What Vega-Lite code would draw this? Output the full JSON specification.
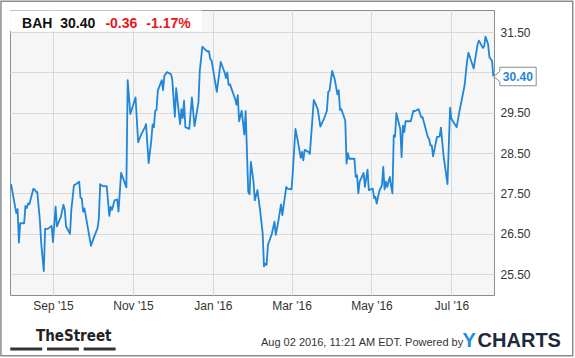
{
  "$schema": "https://vega.github.io/schema/vega-lite/v6.json",
  "width": 484,
  "height": 285,
  "autosize": {"type": "none"},
  "padding": {"left": 10, "top": 10, "right": 81, "bottom": 63},
  "background": "white",
  "config": {
    "font": "Liberation Sans",
    "view": {"fill": "#f6f6f6", "stroke": "#8c8c8c", "strokeWidth": 1}
  },
  "layer": [
    {
      "data": {"values": [
        {"date": "2015-07-31", "price": 27.73},
        {"date": "2015-08-04", "price": 27.01},
        {"date": "2015-08-05", "price": 27.11},
        {"date": "2015-08-06", "price": 26.28},
        {"date": "2015-08-07", "price": 26.76},
        {"date": "2015-08-10", "price": 26.76},
        {"date": "2015-08-11", "price": 27.19},
        {"date": "2015-08-12", "price": 27.14},
        {"date": "2015-08-13", "price": 27.25},
        {"date": "2015-08-14", "price": 27.23},
        {"date": "2015-08-17", "price": 27.61},
        {"date": "2015-08-18", "price": 27.60},
        {"date": "2015-08-19", "price": 27.54},
        {"date": "2015-08-20", "price": 27.54},
        {"date": "2015-08-22", "price": 26.84},
        {"date": "2015-08-23", "price": 26.27},
        {"date": "2015-08-25", "price": 25.57},
        {"date": "2015-08-26", "price": 26.62},
        {"date": "2015-08-28", "price": 26.62},
        {"date": "2015-08-31", "price": 26.69},
        {"date": "2015-09-01", "price": 26.29},
        {"date": "2015-09-03", "price": 27.17},
        {"date": "2015-09-04", "price": 26.68},
        {"date": "2015-09-05", "price": 26.76},
        {"date": "2015-09-07", "price": 26.92},
        {"date": "2015-09-09", "price": 27.22},
        {"date": "2015-09-10", "price": 27.09},
        {"date": "2015-09-11", "price": 26.68},
        {"date": "2015-09-14", "price": 26.50},
        {"date": "2015-09-15", "price": 27.09},
        {"date": "2015-09-17", "price": 27.70},
        {"date": "2015-09-19", "price": 27.74},
        {"date": "2015-09-21", "price": 27.79},
        {"date": "2015-09-22", "price": 27.39},
        {"date": "2015-09-23", "price": 27.38},
        {"date": "2015-09-24", "price": 27.05},
        {"date": "2015-09-25", "price": 27.13},
        {"date": "2015-09-30", "price": 26.20},
        {"date": "2015-10-02", "price": 26.39},
        {"date": "2015-10-05", "price": 26.64},
        {"date": "2015-10-06", "price": 26.88},
        {"date": "2015-10-07", "price": 27.73},
        {"date": "2015-10-09", "price": 27.68},
        {"date": "2015-10-12", "price": 27.68},
        {"date": "2015-10-14", "price": 26.94},
        {"date": "2015-10-15", "price": 27.17},
        {"date": "2015-10-16", "price": 27.09},
        {"date": "2015-10-18", "price": 27.33},
        {"date": "2015-10-20", "price": 27.35},
        {"date": "2015-10-21", "price": 27.05},
        {"date": "2015-10-23", "price": 28.01},
        {"date": "2015-10-25", "price": 27.83},
        {"date": "2015-10-27", "price": 27.65},
        {"date": "2015-10-28", "price": 30.31},
        {"date": "2015-10-30", "price": 29.47},
        {"date": "2015-11-03", "price": 29.88},
        {"date": "2015-11-05", "price": 28.77},
        {"date": "2015-11-07", "price": 28.94},
        {"date": "2015-11-10", "price": 29.13},
        {"date": "2015-11-11", "price": 29.22},
        {"date": "2015-11-13", "price": 28.25},
        {"date": "2015-11-15", "price": 28.81},
        {"date": "2015-11-16", "price": 29.21},
        {"date": "2015-11-17", "price": 29.14},
        {"date": "2015-11-18", "price": 29.55},
        {"date": "2015-11-19", "price": 29.57},
        {"date": "2015-11-20", "price": 30.05},
        {"date": "2015-11-23", "price": 30.31},
        {"date": "2015-11-24", "price": 30.06},
        {"date": "2015-11-25", "price": 30.42},
        {"date": "2015-11-27", "price": 30.51},
        {"date": "2015-11-30", "price": 30.46},
        {"date": "2015-12-01", "price": 30.33},
        {"date": "2015-12-03", "price": 29.40},
        {"date": "2015-12-04", "price": 30.11},
        {"date": "2015-12-06", "price": 29.51},
        {"date": "2015-12-07", "price": 29.22},
        {"date": "2015-12-08", "price": 29.59},
        {"date": "2015-12-09", "price": 29.37},
        {"date": "2015-12-10", "price": 29.80},
        {"date": "2015-12-11", "price": 29.14},
        {"date": "2015-12-13", "price": 29.12},
        {"date": "2015-12-14", "price": 29.10},
        {"date": "2015-12-16", "price": 29.88},
        {"date": "2015-12-18", "price": 29.17},
        {"date": "2015-12-21", "price": 29.76},
        {"date": "2015-12-22", "price": 30.54},
        {"date": "2015-12-24", "price": 31.14},
        {"date": "2015-12-26", "price": 31.07},
        {"date": "2015-12-28", "price": 31.02},
        {"date": "2015-12-29", "price": 31.03},
        {"date": "2015-12-30", "price": 30.83},
        {"date": "2015-12-31", "price": 30.80},
        {"date": "2016-01-04", "price": 30.02},
        {"date": "2016-01-07", "price": 30.76},
        {"date": "2016-01-10", "price": 30.50},
        {"date": "2016-01-11", "price": 30.36},
        {"date": "2016-01-12", "price": 30.50},
        {"date": "2016-01-13", "price": 30.19},
        {"date": "2016-01-14", "price": 30.21},
        {"date": "2016-01-18", "price": 29.84},
        {"date": "2016-01-19", "price": 29.70},
        {"date": "2016-01-20", "price": 29.94},
        {"date": "2016-01-21", "price": 29.29},
        {"date": "2016-01-23", "price": 29.55},
        {"date": "2016-01-25", "price": 28.96},
        {"date": "2016-01-26", "price": 29.54},
        {"date": "2016-01-28", "price": 27.54},
        {"date": "2016-01-29", "price": 27.48},
        {"date": "2016-01-30", "price": 28.28},
        {"date": "2016-02-01", "price": 27.79},
        {"date": "2016-02-02", "price": 27.33},
        {"date": "2016-02-04", "price": 27.58},
        {"date": "2016-02-06", "price": 27.09},
        {"date": "2016-02-08", "price": 26.51},
        {"date": "2016-02-09", "price": 25.69},
        {"date": "2016-02-10", "price": 25.76},
        {"date": "2016-02-11", "price": 25.73},
        {"date": "2016-02-12", "price": 26.22},
        {"date": "2016-02-15", "price": 26.50},
        {"date": "2016-02-17", "price": 26.80},
        {"date": "2016-02-18", "price": 26.47},
        {"date": "2016-02-20", "price": 26.82},
        {"date": "2016-02-22", "price": 27.23},
        {"date": "2016-02-23", "price": 26.96},
        {"date": "2016-02-26", "price": 27.66},
        {"date": "2016-02-27", "price": 27.62},
        {"date": "2016-03-01", "price": 27.60},
        {"date": "2016-03-02", "price": 28.03},
        {"date": "2016-03-04", "price": 29.10},
        {"date": "2016-03-06", "price": 28.77},
        {"date": "2016-03-08", "price": 28.38},
        {"date": "2016-03-09", "price": 28.53},
        {"date": "2016-03-10", "price": 28.32},
        {"date": "2016-03-11", "price": 28.58},
        {"date": "2016-03-14", "price": 28.53},
        {"date": "2016-03-15", "price": 28.48},
        {"date": "2016-03-18", "price": 29.82},
        {"date": "2016-03-21", "price": 29.59},
        {"date": "2016-03-23", "price": 29.16},
        {"date": "2016-03-26", "price": 29.37},
        {"date": "2016-03-28", "price": 29.55},
        {"date": "2016-03-29", "price": 30.02},
        {"date": "2016-03-30", "price": 30.05},
        {"date": "2016-04-01", "price": 30.54},
        {"date": "2016-04-03", "price": 30.33},
        {"date": "2016-04-05", "price": 29.96},
        {"date": "2016-04-06", "price": 30.06},
        {"date": "2016-04-07", "price": 29.57},
        {"date": "2016-04-08", "price": 29.59},
        {"date": "2016-04-11", "price": 29.31},
        {"date": "2016-04-12", "price": 28.24},
        {"date": "2016-04-13", "price": 28.50},
        {"date": "2016-04-14", "price": 28.36},
        {"date": "2016-04-18", "price": 28.36},
        {"date": "2016-04-19", "price": 27.91},
        {"date": "2016-04-20", "price": 27.95},
        {"date": "2016-04-21", "price": 27.50},
        {"date": "2016-04-22", "price": 27.79},
        {"date": "2016-04-25", "price": 28.01},
        {"date": "2016-04-26", "price": 27.66},
        {"date": "2016-04-28", "price": 28.09},
        {"date": "2016-04-29", "price": 27.58},
        {"date": "2016-05-02", "price": 27.62},
        {"date": "2016-05-03", "price": 27.38},
        {"date": "2016-05-04", "price": 27.42},
        {"date": "2016-05-05", "price": 27.25},
        {"date": "2016-05-07", "price": 27.56},
        {"date": "2016-05-09", "price": 27.70},
        {"date": "2016-05-10", "price": 28.16},
        {"date": "2016-05-11", "price": 27.60},
        {"date": "2016-05-12", "price": 27.79},
        {"date": "2016-05-13", "price": 27.66},
        {"date": "2016-05-14", "price": 27.79},
        {"date": "2016-05-15", "price": 27.91},
        {"date": "2016-05-16", "price": 27.68},
        {"date": "2016-05-17", "price": 27.50},
        {"date": "2016-05-18", "price": 28.94},
        {"date": "2016-05-19", "price": 28.91},
        {"date": "2016-05-20", "price": 29.49},
        {"date": "2016-05-23", "price": 29.10},
        {"date": "2016-05-24", "price": 28.40},
        {"date": "2016-05-25", "price": 29.18},
        {"date": "2016-05-26", "price": 29.02},
        {"date": "2016-05-27", "price": 29.29},
        {"date": "2016-05-31", "price": 29.29},
        {"date": "2016-06-02", "price": 29.55},
        {"date": "2016-06-03", "price": 29.54},
        {"date": "2016-06-06", "price": 29.59},
        {"date": "2016-06-08", "price": 29.39},
        {"date": "2016-06-09", "price": 29.39},
        {"date": "2016-06-13", "price": 28.90},
        {"date": "2016-06-14", "price": 28.85},
        {"date": "2016-06-15", "price": 28.69},
        {"date": "2016-06-16", "price": 28.69},
        {"date": "2016-06-17", "price": 28.42},
        {"date": "2016-06-20", "price": 28.90},
        {"date": "2016-06-22", "price": 28.91},
        {"date": "2016-06-23", "price": 29.13},
        {"date": "2016-06-25", "price": 28.44},
        {"date": "2016-06-28", "price": 27.73},
        {"date": "2016-06-30", "price": 29.63},
        {"date": "2016-07-01", "price": 29.35},
        {"date": "2016-07-05", "price": 29.14},
        {"date": "2016-07-07", "price": 29.51},
        {"date": "2016-07-11", "price": 30.17},
        {"date": "2016-07-13", "price": 30.79},
        {"date": "2016-07-14", "price": 30.99},
        {"date": "2016-07-17", "price": 30.70},
        {"date": "2016-07-18", "price": 30.60},
        {"date": "2016-07-21", "price": 31.20},
        {"date": "2016-07-22", "price": 31.29},
        {"date": "2016-07-25", "price": 31.11},
        {"date": "2016-07-26", "price": 31.15},
        {"date": "2016-07-27", "price": 31.39},
        {"date": "2016-07-29", "price": 31.20},
        {"date": "2016-07-30", "price": 30.88},
        {"date": "2016-08-01", "price": 30.79},
        {"date": "2016-08-02", "price": 30.40}
      ]},
      "mark": {"type": "line", "color": "#1f86d9", "strokeWidth": 1.8, "strokeJoin": "round"},
      "encoding": {
        "x": {
          "field": "date", "type": "temporal",
          "scale": {"type": "utc", "nice": false, "domain": [
            {"year": 2015, "month": 7, "date": 30, "hours": 5, "utc": true},
            {"year": 2016, "month": 8, "date": 2, "hours": 12, "utc": true}
          ]},
          "axis": {
            "title": null, "orient": "bottom",
            "values": [
              {"year": 2015, "month": 9, "date": 1, "utc": true},
              {"year": 2015, "month": 11, "date": 1, "utc": true},
              {"year": 2016, "month": 1, "date": 1, "utc": true},
              {"year": 2016, "month": 3, "date": 1, "utc": true},
              {"year": 2016, "month": 5, "date": 1, "utc": true},
              {"year": 2016, "month": 7, "date": 1, "utc": true}
            ],
            "format": "%b '%y",
            "domain": false, "ticks": false,
            "labelPadding": 5, "labelFontSize": 12, "labelColor": "#333333",
            "labelFont": "Liberation Sans",
            "grid": true, "gridColor": "#d9d9d9", "gridWidth": 1
          }
        },
        "y": {
          "field": "price", "type": "quantitative",
          "scale": {"domain": [24.98, 32.05], "nice": false, "zero": false},
          "axis": {
            "title": null, "orient": "right",
            "values": [25.5, 26.5, 27.5, 28.5, 29.5, 30.5, 31.5],
            "format": ".2f",
            "labelExpr": "datum.value == 30.5 ? '' : datum.label",
            "domain": false, "ticks": false,
            "labelPadding": 6, "labelFontSize": 12, "labelColor": "#333333",
            "labelFont": "Liberation Sans",
            "grid": true, "gridColor": "#d9d9d9", "gridWidth": 1
          }
        }
      }
    },
    {
      "data": {"values": [{}]},
      "mark": {"type": "rect", "fill": "white", "stroke": null},
      "encoding": {
        "x": {"datum": {"year": 2015, "month": 7, "date": 30, "hours": 6, "utc": true}, "type": "temporal"},
        "x2": {"datum": {"year": 2015, "month": 12, "date": 23, "hours": 15, "utc": true}},
        "y": {"datum": 31.52, "type": "quantitative"},
        "y2": {"datum": 32.04}
      }
    },
    {
      "data": {"values": [{}]},
      "mark": {"type": "text", "text": "BAH", "font": "Liberation Sans", "fontWeight": "bold", "fontSize": 14, "fill": "#111111", "align": "left", "baseline": "middle"},
      "encoding": {
        "x": {"datum": {"year": 2015, "month": 8, "date": 8, "hours": 10, "utc": true}, "type": "temporal"},
        "y": {"datum": 31.70, "type": "quantitative"}
      }
    },
    {
      "data": {"values": [{}]},
      "mark": {"type": "text", "text": "30.40", "font": "Liberation Sans", "fontWeight": "bold", "fontSize": 14, "fill": "#111111", "align": "left", "baseline": "middle"},
      "encoding": {
        "x": {"datum": {"year": 2015, "month": 9, "date": 6, "hours": 12, "utc": true}, "type": "temporal"},
        "y": {"datum": 31.70, "type": "quantitative"}
      }
    },
    {
      "data": {"values": [{}]},
      "mark": {"type": "text", "text": "-0.36", "font": "Liberation Sans", "fontWeight": "bold", "fontSize": 14, "fill": "#e3191b", "align": "left", "baseline": "middle"},
      "encoding": {
        "x": {"datum": {"year": 2015, "month": 10, "date": 11, "hours": 0, "utc": true}, "type": "temporal"},
        "y": {"datum": 31.70, "type": "quantitative"}
      }
    },
    {
      "data": {"values": [{}]},
      "mark": {"type": "text", "text": "-1.17%", "font": "Liberation Sans", "fontWeight": "bold", "fontSize": 14, "fill": "#e3191b", "align": "left", "baseline": "middle"},
      "encoding": {
        "x": {"datum": {"year": 2015, "month": 11, "date": 11, "hours": 6, "utc": true}, "type": "temporal"},
        "y": {"datum": 31.70, "type": "quantitative"}
      }
    },
    {
      "data": {"values": [{}]},
      "mark": {"type": "point", "filled": true, "fill": "white", "stroke": "#8c8c8c", "strokeWidth": 1, "opacity": 1, "size": 1764,
        "shape": "M0,0 L0.29,-0.24 L0.29,-0.44 L2.02,-0.44 L2.02,0.44 L0.29,0.44 L0.29,0.24 Z"},
      "encoding": {
        "x": {"datum": {"year": 2016, "month": 8, "date": 2, "hours": 8, "utc": true}, "type": "temporal"},
        "y": {"datum": 30.40, "type": "quantitative"}
      }
    },
    {
      "data": {"values": [{}]},
      "mark": {"type": "text", "text": "30.40", "font": "Liberation Sans", "fontWeight": "bold", "fontSize": 12, "fill": "#1f86d9", "align": "left", "baseline": "middle", "dx": 9},
      "encoding": {
        "x": {"datum": {"year": 2016, "month": 8, "date": 2, "hours": 8, "utc": true}, "type": "temporal"},
        "y": {"datum": 30.40, "type": "quantitative"}
      }
    },
    {
      "data": {"values": [{}]},
      "mark": {"type": "text", "text": "TheStreet", "font": "Liberation Sans Narrow, DejaVu Sans Condensed", "fontWeight": "bold", "fontSize": 15, "fill": "#222222", "align": "left", "baseline": "middle"},
      "encoding": {
        "x": {"datum": {"year": 2015, "month": 8, "date": 19, "utc": true}, "type": "temporal"},
        "y": {"datum": 23.96, "type": "quantitative"}
      }
    },
    {
      "data": {"values": [{}]},
      "mark": {"type": "rule", "stroke": "#333333", "strokeWidth": 3},
      "encoding": {
        "x": {"datum": {"year": 2015, "month": 7, "date": 30, "hours": 10, "utc": true}, "type": "temporal"},
        "x2": {"datum": {"year": 2015, "month": 8, "date": 23, "hours": 19, "utc": true}},
        "y": {"datum": 23.64, "type": "quantitative"}
      }
    },
    {
      "data": {"values": [{}]},
      "mark": {"type": "rule", "stroke": "#333333", "strokeWidth": 3},
      "encoding": {
        "x": {"datum": {"year": 2015, "month": 8, "date": 27, "hours": 10, "utc": true}, "type": "temporal"},
        "x2": {"datum": {"year": 2015, "month": 9, "date": 20, "hours": 19, "utc": true}},
        "y": {"datum": 23.64, "type": "quantitative"}
      }
    },
    {
      "data": {"values": [{}]},
      "mark": {"type": "rule", "stroke": "#333333", "strokeWidth": 3},
      "encoding": {
        "x": {"datum": {"year": 2015, "month": 9, "date": 24, "hours": 10, "utc": true}, "type": "temporal"},
        "x2": {"datum": {"year": 2015, "month": 10, "date": 18, "hours": 19, "utc": true}},
        "y": {"datum": 23.64, "type": "quantitative"}
      }
    },
    {
      "data": {"values": [{}]},
      "mark": {"type": "text", "text": "Aug 02 2016, 11:21 AM EDT.  Powered by", "font": "Liberation Sans", "fontSize": 11, "fill": "#333333", "align": "left", "baseline": "middle"},
      "encoding": {
        "x": {"datum": {"year": 2016, "month": 2, "date": 6, "hours": 17, "utc": true}, "type": "temporal"},
        "y": {"datum": 23.79, "type": "quantitative"}
      }
    },
    {
      "data": {"values": [{}]},
      "mark": {"type": "text", "text": "Y", "font": "Liberation Sans", "fontWeight": "bold", "fontSize": 20, "fill": "#1d8ce0", "align": "left", "baseline": "middle"},
      "encoding": {
        "x": {"datum": {"year": 2016, "month": 7, "date": 9, "hours": 12, "utc": true}, "type": "temporal"},
        "y": {"datum": 23.83, "type": "quantitative"}
      }
    },
    {
      "data": {"values": [{}]},
      "mark": {"type": "text", "text": "CHARTS", "font": "Liberation Sans", "fontWeight": "bold", "fontSize": 20, "fill": "#1c2a39", "align": "left", "baseline": "middle"},
      "encoding": {
        "x": {"datum": {"year": 2016, "month": 7, "date": 21, "utc": true}, "type": "temporal"},
        "y": {"datum": 23.83, "type": "quantitative"}
      }
    },
    {
      "data": {"values": [{}]},
      "mark": {"type": "rect", "filled": false, "stroke": "#8c8c8c", "strokeWidth": 1.5},
      "encoding": {
        "x": {"datum": {"year": 2015, "month": 7, "date": 23, "hours": 7, "utc": true}, "type": "temporal"},
        "x2": {"datum": {"year": 2016, "month": 10, "date": 1, "hours": 14, "utc": true}},
        "y": {"datum": 32.27, "type": "quantitative"},
        "y2": {"datum": 23.47}
      }
    }
  ]
}
